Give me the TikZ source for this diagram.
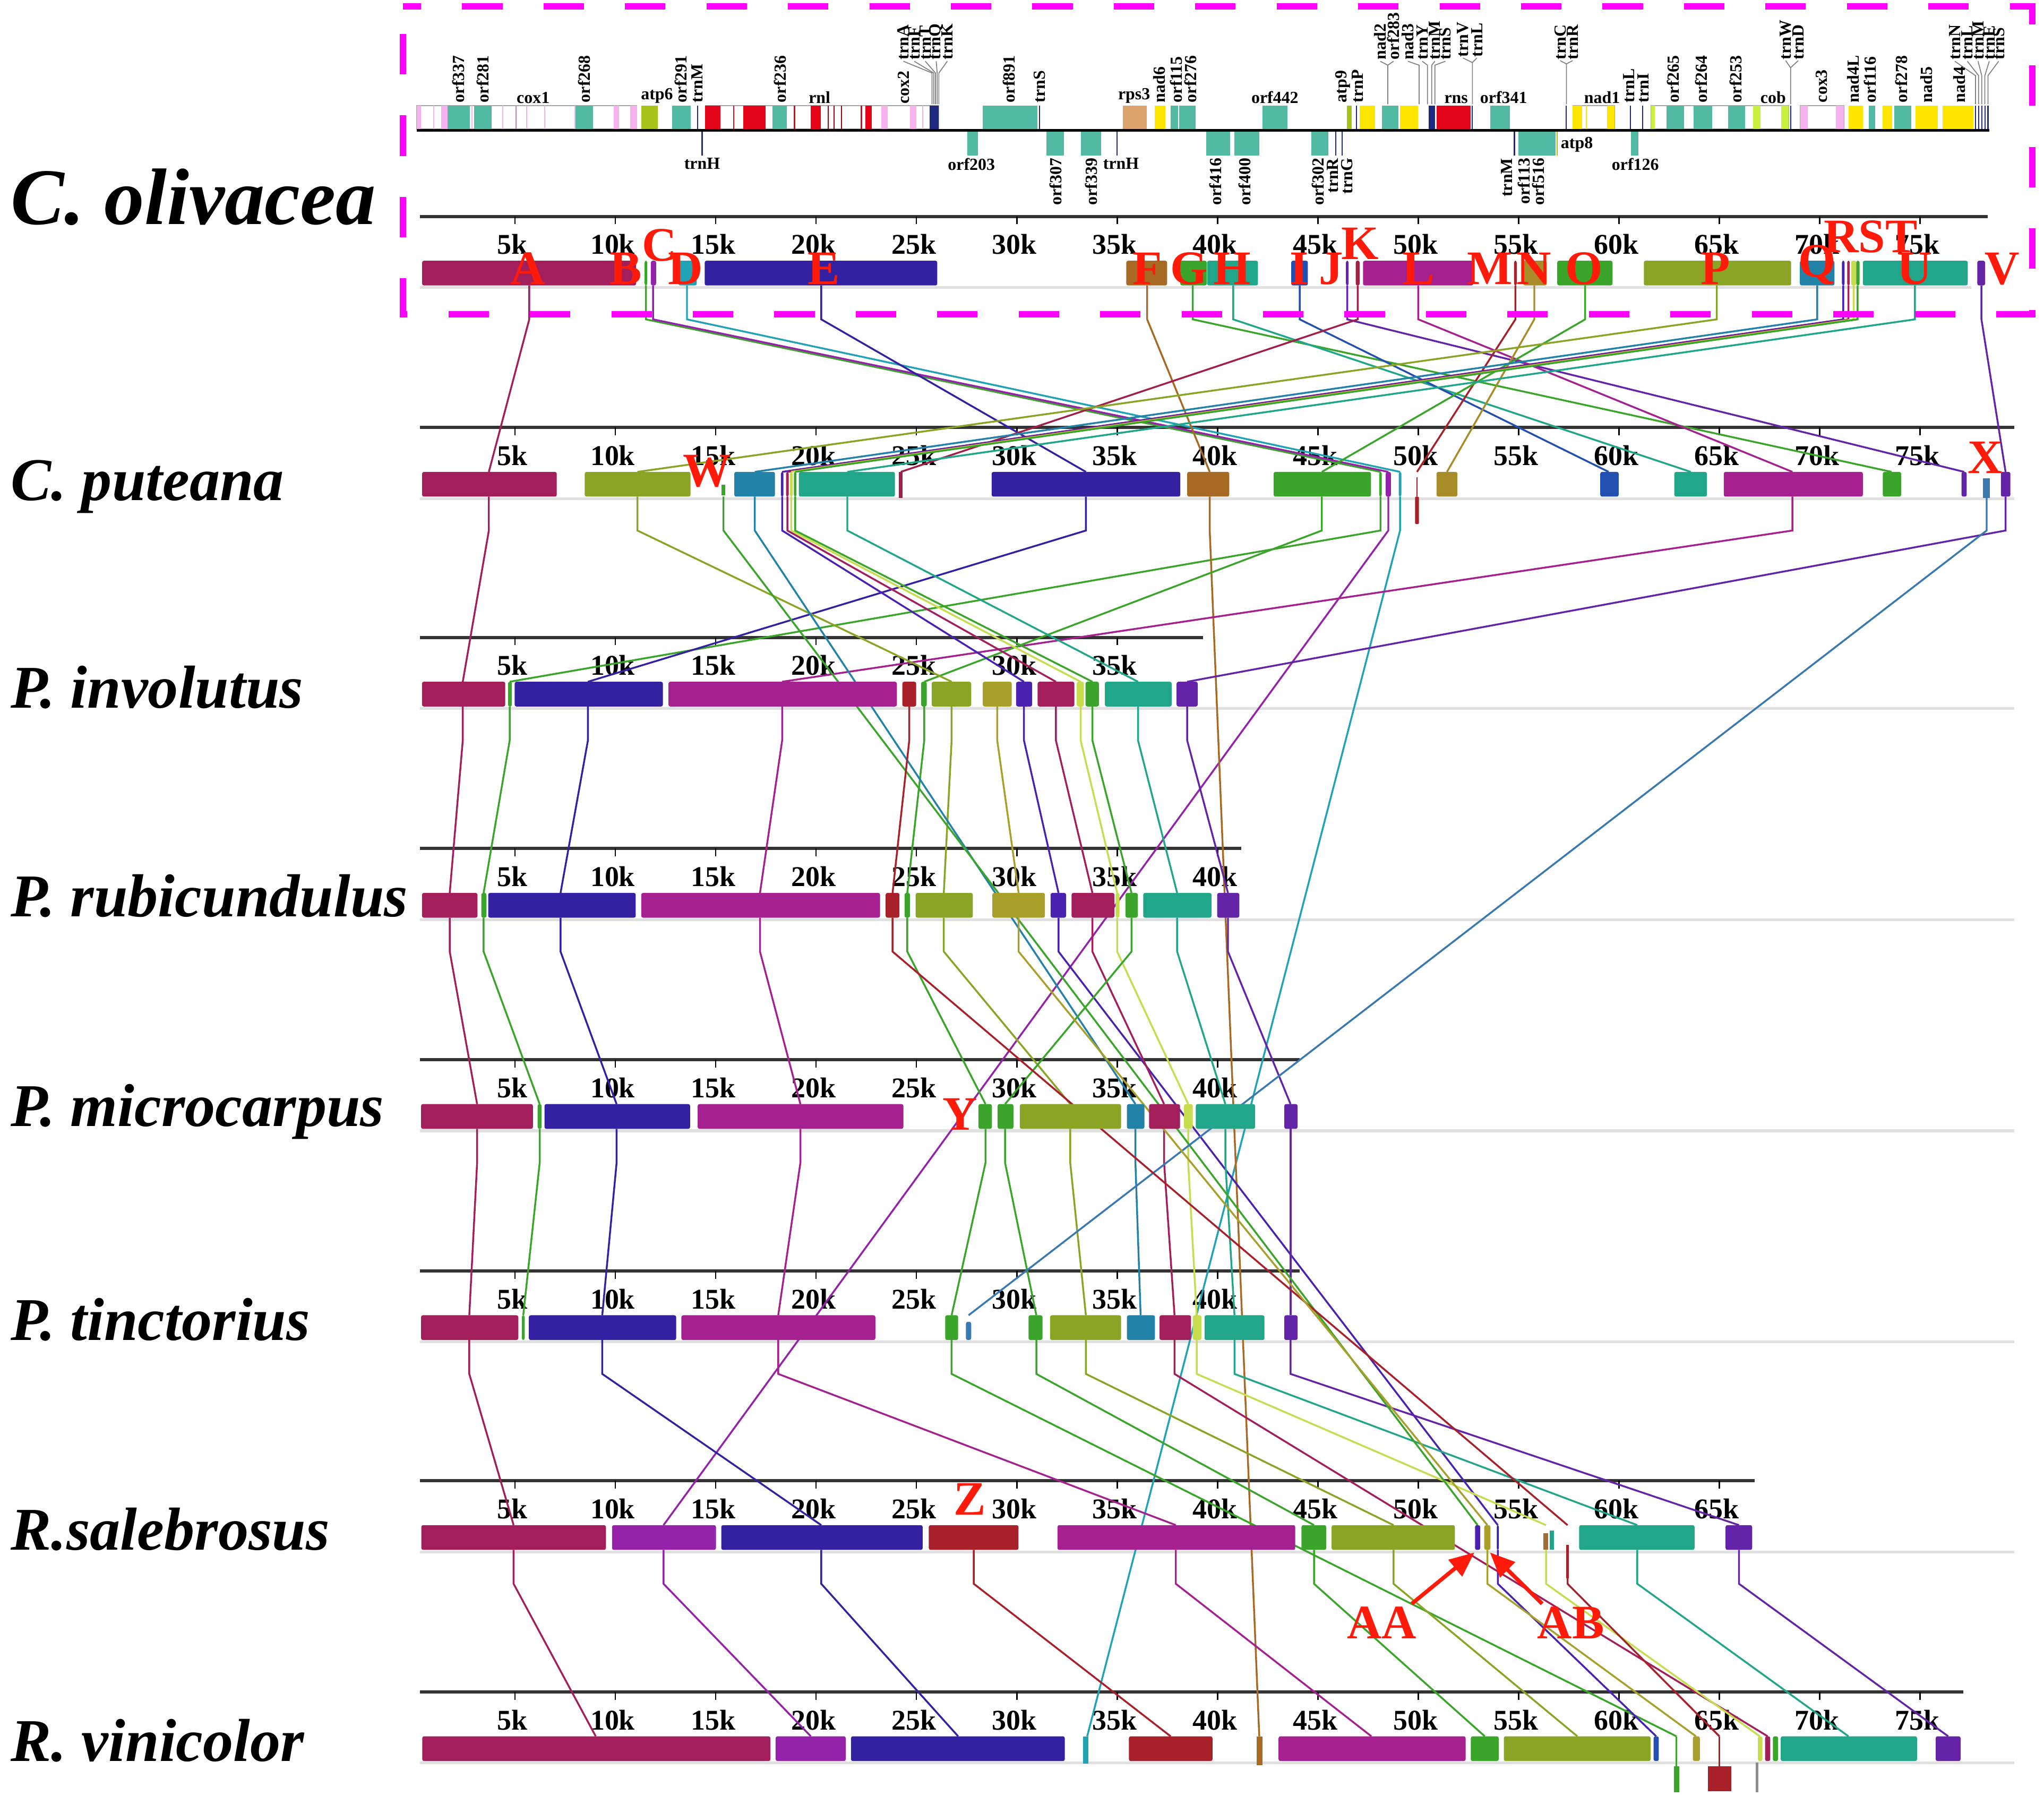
\documentclass[tikz,border=0pt]{standalone}
\usepackage{fontspec}
\setmainfont{Liberation Serif}
\usetikzlibrary{arrows.meta}

% block colours (alignment)
\definecolor{cMaroon}{HTML}{A31F5C}
\definecolor{cIndigo}{HTML}{3421A2}
\definecolor{cMag}{HTML}{A62190}
\definecolor{cOlive}{HTML}{8AA526}
\definecolor{cTeal}{HTML}{22A68A}
\definecolor{cGreen}{HTML}{3AA52A}
\definecolor{cBrown}{HTML}{A76A24}
\definecolor{cBlueTeal}{HTML}{2282A8}
\definecolor{cCyan}{HTML}{21A3B6}
\definecolor{cBlue}{HTML}{2350B0}
\definecolor{cPurple}{HTML}{6424A8}
\definecolor{cViolet}{HTML}{9423AA}
\definecolor{cRed}{HTML}{A8202A}
\definecolor{cN}{HTML}{A88C2A}
\definecolor{cOY}{HTML}{A8A02A}
\definecolor{cCrim}{HTML}{A02048}
\definecolor{cPB}{HTML}{4A22B2}
\definecolor{cLight}{HTML}{C8DC50}
\definecolor{cSteel}{HTML}{3A78B0}
% gene map colours
\definecolor{gTeal}{HTML}{52B9A2}
\definecolor{gRed}{HTML}{E3061B}
\definecolor{gYel}{HTML}{FFE600}
\definecolor{gYG}{HTML}{A8C21C}
\definecolor{gLG}{HTML}{C8F040}
\definecolor{gPink}{HTML}{F5B2EC}
\definecolor{gNavy}{HTML}{1E2A80}
\definecolor{gTan}{HTML}{DCA36C}
\definecolor{magdash}{HTML}{FF00FF}
\definecolor{letred}{HTML}{FF1A0A}

% top edge of the block row of each genome
\def\trackTops{{0,200,362,523,685,847,1009,1170,1332}}
\newcount\genecnt

% block: genome, from, to, colour
\newcommand{\blk}[4]{%
   \pgfmathsetmacro{\blkTop}{\trackTops[#1]}%
   \fill[#4, rounded corners=0.8pt] (#2,\blkTop) rectangle (#3,\blkTop+19);%
}
% connector of one block through the genomes: colour, list genome/x
\newcommand{\lcb}[2]{%
   \foreach \g/\x [count=\i, remember=\g as \pg (initially 1), remember=\x as \px (initially 0)] in {#2}{%
      \ifnum\i>1
         \pgfmathsetmacro{\ya}{\trackTops[\pg]+19}%
         \pgfmathsetmacro{\yb}{\trackTops[\pg]+45}%
         \pgfmathsetmacro{\yc}{\trackTops[\g]}%
         \draw[conn, #1] (\px,\ya) -- (\px,\yb) -- (\x,\yc);
      \fi
   }%
}
% gene map boxes and lines
\newcommand{\gu}[3]{\fill[#3] (#1,81) rectangle (#2,99);}
\newcommand{\gl}[3]{\fill[#3] (#1,101) rectangle (#2,119.5);}
\newcommand{\gul}[2]{\draw[#2, line width=0.5pt] (#1,81) -- (#1,99);}
\newcommand{\gll}[2]{\draw[#2, line width=0.5pt] (#1,101) -- (#1,119.5);}
% gene labels
\newcommand{\gtu}[3][79]{\global\advance\genecnt by 1\relax
   \node[glab, rotate=90, anchor=west] (gene\the\genecnt) at (#2,#1) {#3};}
\newcommand{\gth}[2]{\global\advance\genecnt by 1\relax
   \node[glab, anchor=south] (gene\the\genecnt) at (#1,79.5) {#2};}
\newcommand{\gtl}[2]{\global\advance\genecnt by 1\relax
   \node[glab, rotate=90, anchor=east] (gene\the\genecnt) at (#1,121) {#2};}
\newcommand{\gtlh}[2]{\global\advance\genecnt by 1\relax
   \node[glab, anchor=north] (gene\the\genecnt) at (#1,121) {#2};}

\tikzset{
   conn/.style={line width=0.8pt},
   ruler/.style={line width=1.4pt, black!80},
   tickmark/.style={line width=0.6pt, black},
   ticklab/.style={anchor=base, inner sep=0pt, font=\fontsize{12.5}{13}\selectfont\bfseries},
   baseln/.style={line width=1.2pt, black!12},
   glab/.style={inner sep=0pt, font=\fontsize{7.4}{8}\selectfont\bfseries},
   lead/.style={line width=0.4pt, black!50},
   gbox/.style={draw=black!35, fill=white, line width=0.3pt},
   sp/.style={anchor=base west, inner sep=0pt, font=\fontsize{26.5}{28}\selectfont\bfseries\itshape},
   lett/.style={anchor=base, inner sep=0pt, text=letred, font=\fontsize{21}{22}\selectfont\bfseries},
   redarrow/.style={line width=1.7pt, letred, -{Triangle[length=0.38cm, width=0.32cm]}}
}

\begin{document}
\begin{tikzpicture}[x=0.02cm, y=-0.02cm]
\useasboundingbox (0,0) rectangle (1568,1377.4);

%%%%%%%%%%%%%%%%%% gene map of C. olivacea
\draw[gbox] (319.7,81) rectangle (488.6,99);
\draw[gbox] (541,81) rectangle (720,99);
\draw[gbox] (1206.4,81) rectangle (1238.6,99);
\draw[gbox] (1266.5,81) rectangle (1372.2,99);
\draw[gbox] (1381,81) rectangle (1414.5,99);
% upper strand
\gu{319.7}{323}{gPink} \gu{338.3}{343.4}{gPink} \gu{343.4}{360.3}{gTeal}
\gu{363.6}{377.1}{gTeal} \gu{441.3}{454.8}{gTeal} \gu{471}{475}{gPink} \gu{483.5}{488.6}{gPink}
\foreach \x in {332.6,362,385.6,404,417.7,441}
   {\gul{\x}{gPink}}
\gul{395.7}{cMag!60}
\gu{492}{504.8}{gYG} \gu{515.6}{529.8}{gTeal} \gul{535.2}{gNavy}
\gu{541}{552.8}{gRed} \gul{563}{gRed} \gu{570.3}{587.2}{gRed} \gu{592.6}{603.4}{gTeal}
\gul{609.5}{gRed} \gu{622}{629.7}{gRed} \gul{660.8}{gRed} \gu{664}{668.6}{gRed}
\foreach \x in {635.5,639.9,645.6}
   {\gul{\x}{gRed!70!black}}
\gu{676}{681}{gPink} \gu{698}{703}{gPink} \gul{708}{gPink} \gu{713.2}{720}{gNavy}
\gu{753.7}{796}{gTeal} \gul{797.6}{gNavy}
\gu{861.3}{879.6}{gTan} \gu{885.8}{894}{gYel} \gu{898}{903.6}{gTeal} \gu{904.6}{917}{gTeal}
\gu{968.5}{987.7}{gTeal}
\gu{1033.4}{1036.7}{gYG} \gul{1040.6}{gNavy} \gu{1043}{1055}{gYel} \gu{1060}{1072.8}{gTeal}
\gu{1074}{1087.7}{gYel} \gu{1096}{1101}{gNavy} \gu{1102}{1128}{gRed} \gul{1129.5}{gNavy}
\gu{1143}{1158.3}{gTeal} \gul{1201.6}{gNavy}
\gu{1206.4}{1213.6}{gYel} \gul{1217}{gYel} \gu{1232.8}{1238.6}{gYel}
\gul{1250.6}{gNavy} \gul{1260}{gNavy}
\gu{1266.5}{1269.4}{gLG} \gu{1278.5}{1292}{gTeal} \gu{1299}{1313.6}{gTeal} \gu{1325.6}{1338.6}{gTeal}
\gu{1344.8}{1350.6}{gLG} \gu{1366.4}{1372.2}{gLG} \gul{1373.6}{gNavy}
\gu{1381}{1386.6}{gPink} \gu{1408.3}{1414.5}{gPink}
\gu{1418}{1429}{gYel} \gu{1433.7}{1438.5}{gTeal} \gu{1444.3}{1451.5}{gYel} \gu{1453}{1466}{gTeal}
\gu{1469.3}{1486.6}{gYel} \gu{1490}{1514}{gYel}
\foreach \x in {1515.4,1517.8,1520.2,1522.6,1525}
   {\gul{\x}{gNavy}}
% lower strand
\gll{538.6}{gNavy} \gl{741.9}{750.3}{gTeal} \gl{802.6}{816}{gTeal} \gl{829}{844.5}{gTeal}
\gll{857}{gNavy} \gl{925.2}{943.5}{gTeal} \gl{947}{966}{gTeal} \gl{1006}{1019}{gTeal}
\gll{1024.7}{gNavy} \gll{1029.5}{gNavy} \gll{1161.7}{gNavy} \gl{1164.6}{1193.4}{gTeal}
\gll{1194.4}{gYG} \gl{1251}{1257}{gTeal}
\draw[line width=1.3pt] (319.7,100) -- (1526,100);

% leader lines of the tRNA clusters
\foreach \lx/\gx in {693/715, 701.3/716.3, 709.8/717.6, 718.2/718.9, 726.7/720.2}
   {\draw[lead] (\lx,47) -- (\gx,56) -- (\gx,80);}
\draw[lead] (1058.8,47) -- (1064.6,50) -- (1064.6,80);
\draw[lead] (1069,47) -- (1064.6,50);
\foreach \lx/\gx in {1080/1088.6, 1091/1095, 1100.7/1098.3, 1108.8/1100.7}
   {\draw[lead] (\lx,47) -- (\gx,50) -- (\gx,80);}
\draw[lead] (1122.3,44.5) -- (1129.5,48) -- (1129.5,80);
\draw[lead] (1132.9,44.5) -- (1129.5,48);
\draw[lead] (1196.8,46.5) -- (1201.6,49) -- (1201.6,80);
\draw[lead] (1206.4,46.5) -- (1201.6,49);
\draw[lead] (1369.8,46.5) -- (1373.6,52) -- (1373.6,80);
\draw[lead] (1379.4,46.5) -- (1373.6,52);
\foreach \lx/\gx in {1499.6/1515.4, 1509.2/1517.8, 1517.4/1520.2, 1526/1522.6, 1533.2/1525}
   {\draw[lead] (\lx,47) -- (\gx,58) -- (\gx,80);}

% gene names above
\gtu{351.8}{orf337} \gtu{370.4}{orf281} \gth{409}{cox1} \gtu{448}{orf268}
\gth{504}{atp6} \gtu{522.4}{orf291} \gtu{535}{trnM} \gtu{598.3}{orf236}
\gth{628.7}{rnl} \gtu[80]{693}{cox2}
\gtu[46]{693}{trnA} \gtu[46]{701.3}{trnF} \gtu[46]{709.8}{trnT} \gtu[46]{718.2}{trnQ} \gtu[46]{726.7}{trnK}
\gtu{774}{orf891} \gtu{797.6}{trnS}
\gth{870}{rps3} \gtu{889.2}{nad6} \gtu{902.2}{orf115} \gtu{913.2}{orf276}
\gth{978}{orf442} \gtu{1030}{atp9} \gtu{1041.5}{trnP}
\gtu[46]{1058.8}{nad2} \gtu[46]{1069}{orf283} \gtu[46]{1080}{nad3}
\gtu[46]{1091}{trnY} \gtu[46]{1100.7}{trnM} \gtu[46]{1108.8}{trnS}
\gth{1117}{rns} \gtu[44]{1122.3}{trnV} \gtu[44]{1132.9}{trnL}
\gth{1153.5}{orf341} \gtu[46]{1196.8}{trnC} \gtu[46]{1206.4}{trnR}
\gth{1229}{nad1} \gtu{1249.6}{trnL} \gtu{1260.7}{trnI}
\gtu{1283.3}{orf265} \gtu{1305}{orf264} \gtu{1331.4}{orf253}
\gth{1360.2}{cob} \gtu[46]{1369.8}{trnW} \gtu[46]{1379.4}{trnD}
\gtu{1397.2}{cox3} \gtu{1421.7}{nad4L} \gtu{1434.7}{orf116} \gtu{1458.7}{orf278}
\gtu{1478}{nad5} \gtu{1503}{nad4}
\gtu[46]{1499.6}{trnN} \gtu[46]{1509.2}{trnL} \gtu[46]{1517.4}{trnM} \gtu[46]{1526}{trnE} \gtu[46]{1533.2}{trnS}
% gene names below
\gtlh{538.6}{trnH} \gtlh{745.2}{orf203} \gtl{810}{orf307} \gtl{837}{orf339} \gtlh{860}{trnH}
\gtl{932.5}{orf416} \gtl{955}{orf400} \gtl{1011}{orf302} \gtl{1022.5}{trnR} \gtl{1033.4}{trnG}
\gtl{1156}{trnM} \gtl{1169}{orf113} \gtl{1180}{orf516} \gtlh{1254.5}{orf126}
\global\advance\genecnt by 1\relax
\node[glab, anchor=west] (gene\the\genecnt) at (1197,111) {atp8};

%%%%%%%%%%%%%%%%%% rulers and baselines
\foreach \g/\re/\nt in {1/1525/15, 2/1545/15, 3/923/7, 4/952/8, 5/997/8, 6/997/8, 7/1346/13, 8/1506/15}
{
   \pgfmathsetmacro{\ry}{\trackTops[\g]-34}
   \pgfmathsetmacro{\by}{\trackTops[\g]+20.5}
   \pgfmathsetmacro{\be}{\g==1 ? 1512 : 1545}
   \draw[baseln] (322,\by) -- (\be,\by);
   \draw[ruler] (322,\ry) -- (\re,\ry);
   \foreach \k in {1,...,\nt}
   {
      \pgfmathsetmacro{\tx}{318+77*\k}
      \pgfmathtruncatemacro{\kk}{5*\k}
      \draw[tickmark] (\tx,\ry) -- (\tx,\ry+6);
      \node[ticklab] (tk\g-\k) at (\tx-2,\ry+29) {\kk k};
   }
}

%%%%%%%%%%%%%%%%%% connectors
\lcb{cMaroon}{1/406,2/375,3/355,4/345,5/366,6/360,7/394,8/457}
\lcb{cGreen}{1/495.5,2/1059,3/391,4/371,5/414,6/401.4}
\lcb{cViolet}{1/501,2/1065,7/509,8/622}
\lcb{cCyan}{1/527,2/1074,8/834}
\lcb{cIndigo}{1/630,2/833,3/451,4/430,5/473,6/462,7/630,8/735}
\lcb{cBrown}{1/880,2/928,8/966}
\lcb{cGreen}{1/915,2/1451}
\lcb{cTeal}{1/946,2/1297}
\lcb{cBlue}{1/997,2/1234}
\lcb{cPurple}{1/1033.5,2/1506.7}
\lcb{cCrim}{1/1041.5,2/691}
\lcb{cMag}{1/1088,2/1375,3/600,4/583,5/614,6/597,7/902,8/1052}
\lcb{cRed}{1/1162.5,2/1087}
\lcb{cN}{1/1177,2/1110}
\lcb{cGreen}{1/1216,2/1014,3/709,4/696,5/756,6/730,8/1286}
\lcb{cOlive}{1/1317,2/489,3/730,4/724,5/821,6/833,7/1069,8/1210}
\lcb{cBlueTeal}{1/1394,2/579,5/871,6/875}
\lcb{cPB}{1/1414,2/600,3/785.5,4/812,7/1149,8/1270.5}
\lcb{cMaroon}{1/1418,2/604,3/810,4/838,5/893,6/901,8/1356}
\lcb{cLight}{1/1422,2/607,3/829,4/857,5/911.5,6/918,7/1186,8/1350}
\lcb{cGreen}{1/1425,2/610,3/838,4/868,5/771,6/795,7/1008,8/1139}
\lcb{cTeal}{1/1469,2/650,3/873,4/903,5/940,6/947,7/1256,8/1418}
\lcb{cPurple}{1/1520,2/1538.5,3/910.7,4/942,5/990,6/990,7/1334,8/1494.5}
\lcb{cGreen}{2/555,7/1133.5}
\lcb{cSteel}{2/1524,6/743}
\lcb{cRed}{3/697.5,4/684.7,7/1202.5,8/1319}
\lcb{cOY}{3/765,4/781.4,7/1141,8/1301}
\lcb{cRed}{7/747,8/898}
% reverse blocks hang below the baseline
\draw[conn, cGreen] (1286,1332) -- (1286,1355);
\draw[conn, cRed] (1319,1332) -- (1319,1355);

%%%%%%%%%%%%%%%%%% blocks
% C. olivacea
\blk{1}{323.8}{488}{cMaroon}   \blk{1}{494.5}{496.5}{cGreen}  \blk{1}{499.3}{503.3}{cViolet}
\blk{1}{520.4}{534.5}{cCyan}   \blk{1}{540.6}{719}{cIndigo}   \blk{1}{864}{895.3}{cBrown}
\blk{1}{905.4}{925.7}{cGreen}  \blk{1}{926}{965}{cTeal}       \blk{1}{990.5}{1003.3}{cBlue}
\blk{1}{1032.5}{1034.5}{cPurple} \blk{1}{1040}{1043}{cCrim}   \blk{1}{1045.6}{1130.2}{cMag}
\blk{1}{1161.5}{1163.5}{cRed}  \blk{1}{1168.5}{1186.5}{cN}    \blk{1}{1194.6}{1237}{cGreen}
\blk{1}{1261}{1374}{cOlive}    \blk{1}{1380.7}{1407.3}{cBlueTeal}
\blk{1}{1413}{1415}{cPB}       \blk{1}{1417}{1419}{cMaroon}   \blk{1}{1420}{1424}{cLight}
\blk{1}{1424}{1426.5}{cGreen}  \blk{1}{1429}{1509.5}{cTeal}   \blk{1}{1516.8}{1522.8}{cPurple}
% C. puteana
\blk{2}{323.8}{427.1}{cMaroon} \blk{2}{448.6}{529.7}{cOlive}
\fill[cGreen] (553.5,372) rectangle (556.5,380);
\blk{2}{563.3}{594.5}{cBlueTeal} \blk{2}{599}{601}{cPB}      \blk{2}{603}{605}{cMaroon}
\blk{2}{606}{608}{cLight}      \blk{2}{609}{611}{cGreen}      \blk{2}{612.8}{686.5}{cTeal}
\fill[cCrim] (689.5,362) rectangle (692.5,382);
\blk{2}{760.7}{905.4}{cIndigo} \blk{2}{910.7}{943}{cBrown}    \blk{2}{977}{1051.7}{cGreen}
\blk{2}{1058}{1060}{cGreen}    \blk{2}{1063}{1067}{cViolet}   \blk{2}{1073}{1075}{cCyan}
\fill[cRed] (1086.4,366) rectangle (1087.6,381);
\fill[cRed, rounded corners=0.5pt] (1085.5,381) rectangle (1088.5,402);
\blk{2}{1102}{1118}{cN}        \blk{2}{1227.6}{1241.7}{cBlue} \blk{2}{1284.4}{1309.4}{cTeal}
\blk{2}{1322.3}{1429}{cMag}    \blk{2}{1444.3}{1458.4}{cGreen} \blk{2}{1504.7}{1508.7}{cPurple}
\fill[cSteel] (1521,367) rectangle (1526.5,382);
\blk{2}{1534.9}{1542.2}{cPurple}
% P. involutus
\blk{3}{323.7}{387.6}{cMaroon} \blk{3}{389.7}{392.7}{cGreen}  \blk{3}{394.8}{508.5}{cIndigo}
\blk{3}{512.8}{688}{cMag}      \blk{3}{692.2}{702.8}{cRed}    \blk{3}{706.6}{710.9}{cGreen}
\blk{3}{714.7}{745}{cOlive}    \blk{3}{753.9}{776.1}{cOY}     \blk{3}{779.5}{791.8}{cPB}
\blk{3}{796}{824.2}{cMaroon}   \blk{3}{826}{831.5}{cLight}    \blk{3}{832.7}{843}{cGreen}
\blk{3}{847.6}{898.8}{cTeal}   \blk{3}{902.6}{918.8}{cPurple}
% P. rubicundulus
\blk{4}{323.7}{366.3}{cMaroon} \blk{4}{369.2}{373.2}{cGreen}  \blk{4}{374.5}{487.7}{cIndigo}
\blk{4}{491.9}{675.1}{cMag}    \blk{4}{679.4}{690}{cRed}      \blk{4}{693.9}{698.1}{cGreen}
\blk{4}{702.4}{746.3}{cOlive}  \blk{4}{761.2}{801.6}{cOY}     \blk{4}{805.9}{817.8}{cPB}
\blk{4}{822}{854.9}{cMaroon}   \blk{4}{855.8}{858.8}{cLight}  \blk{4}{863.4}{872.8}{cGreen}
\blk{4}{877}{929.4}{cTeal}     \blk{4}{933.7}{950.7}{cPurple}
% P. microcarpus
\blk{5}{323}{408.8}{cMaroon}   \blk{5}{412.4}{415.5}{cGreen}  \blk{5}{417.7}{529.4}{cIndigo}
\blk{5}{535.2}{693}{cMag}      \blk{5}{750.6}{760.9}{cGreen}  \blk{5}{765.3}{777.4}{cGreen}
\blk{5}{782.3}{860}{cOlive}    \blk{5}{864.5}{877.9}{cBlueTeal} \blk{5}{881.5}{905.2}{cMaroon}
\blk{5}{908.3}{915}{cLight}    \blk{5}{917.3}{962.8}{cTeal}   \blk{5}{985.2}{995.4}{cPurple}
% P. tinctorius
\blk{6}{323}{397.6}{cMaroon}   \blk{6}{400.3}{402.5}{cGreen}  \blk{6}{405.7}{518.7}{cIndigo}
\blk{6}{522.7}{671.5}{cMag}    \blk{6}{725.1}{735}{cGreen}
\fill[cSteel, rounded corners=0.8pt] (741,1014) rectangle (745,1028);
\blk{6}{789}{799.7}{cGreen}    \blk{6}{805.5}{860}{cOlive}    \blk{6}{864.5}{886}{cBlueTeal}
\blk{6}{889.5}{913.7}{cMaroon} \blk{6}{915}{921.7}{cLight}    \blk{6}{924}{970}{cTeal}
\blk{6}{985.2}{995.4}{cPurple}
% R. salebrosus
\blk{7}{323.2}{464.8}{cMaroon} \blk{7}{469.5}{549.2}{cViolet} \blk{7}{553.3}{707.8}{cIndigo}
\blk{7}{712.5}{781.3}{cRed}    \blk{7}{811.2}{993.6}{cMag}    \blk{7}{998.4}{1017.4}{cGreen}
\blk{7}{1021.5}{1116.1}{cOlive} \blk{7}{1131.5}{1135.5}{cPB}  \blk{7}{1138.6}{1143.3}{cOY}
\blk{7}{1148.2}{1149.8}{cIndigo}
\fill[cBrown!80!gray] (1184,1176) rectangle (1187.5,1189);
\fill[cTeal] (1189,1174) rectangle (1192,1189);
\fill[cRed] (1201.5,1185) rectangle (1203.5,1211);
\blk{7}{1211.4}{1299.9}{cTeal} \blk{7}{1323.7}{1344.1}{cPurple}
% R. vinicolor
\blk{8}{323.9}{591}{cMaroon}   \blk{8}{595}{648.8}{cViolet}   \blk{8}{652.8}{816.8}{cIndigo}
\fill[cCyan] (831,1332) rectangle (835,1353);
\blk{8}{866}{930.1}{cRed}
\fill[cBrown] (964,1332) rectangle (968.5,1354);
\blk{8}{980.8}{1124.3}{cMag}   \blk{8}{1128.3}{1149.7}{cGreen} \blk{8}{1153.6}{1266.2}{cOlive}
\blk{8}{1268.5}{1272.5}{cBlue}
\fill[cGreen] (1284,1355) rectangle (1288,1375);
\blk{8}{1298.6}{1304}{cOY}
\fill[cRed] (1310,1355) rectangle (1328,1374);
\fill[black!45] (1347,1352) rectangle (1349,1375);
\blk{8}{1348.5}{1352}{cLight}  \blk{8}{1354}{1358}{cMaroon}   \blk{8}{1360}{1364}{cGreen}
\blk{8}{1366}{1470.6}{cTeal}   \blk{8}{1484.9}{1504}{cPurple}

%%%%%%%%%%%%%%%%%% species names
\node[sp, font=\fontsize{35}{38}\selectfont\bfseries\itshape] (olivacea) at (8,172) {C. olivacea};
\node[sp] (puteana) at (8,384) {C. puteana};
\node[sp] (involutus) at (8,543) {P. involutus};
\node[sp] (rubicundulus) at (8,703) {P. rubicundulus};
\node[sp] (microcarpus) at (8,864) {P. microcarpus};
\node[sp] (tinctorius) at (8,1028) {P. tinctorius};
\node[sp] (salebrosus) at (8,1189) {R.salebrosus};
\node[sp] (vinicolor) at (8,1351) {R. vinicolor};

%%%%%%%%%%%%%%%%%% block letters
\foreach \n/\x in {A/405, B/480, D/526, E/632, F/880, G/912, H/945, I/996.5, J/1021,
                   L/1088, M/1143, N/1176.5, O/1215, P/1316, U/1468.5, V/1536}
   {\node[lett] (lab\n) at (\x,218) {\n};}
\node[lett] (labC) at (506,200) {C};
\node[lett] (labK) at (1043.5,199) {K};
\node[lett] (labQ) at (1394,212.5) {Q};
\node[lett] (labRST) at (1435,193.5) {RST};
\node[lett] (labW) at (542.6,373.4) {W};
\node[lett] (labX) at (1522.8,363) {X};
\node[lett] (labY) at (736.3,867) {Y};
\node[lett] (labZ) at (743.8,1162) {Z};
\node[lett] (labAA) at (1060,1257) {AA};
\node[lett] (labAB) at (1205,1257) {AB};
\coordinate (tipAA) at (1131,1191);
\coordinate (tipAB) at (1143,1191);
\draw[redarrow] (labAA.north east) ++(-4,-2) -- (tipAA);
\draw[redarrow] (labAB.north west) ++(4,-2) -- (tipAB);

%%%%%%%%%%%%%%%%%% frame round C. olivacea
\draw[magdash, line width=2.7pt, dash pattern=on 0.62cm off 0.63cm, dash phase=0.34cm]
   (309,5) -- (1559,5) -- (1559,241) -- (309,241) -- cycle;
\end{tikzpicture}
\end{document}
